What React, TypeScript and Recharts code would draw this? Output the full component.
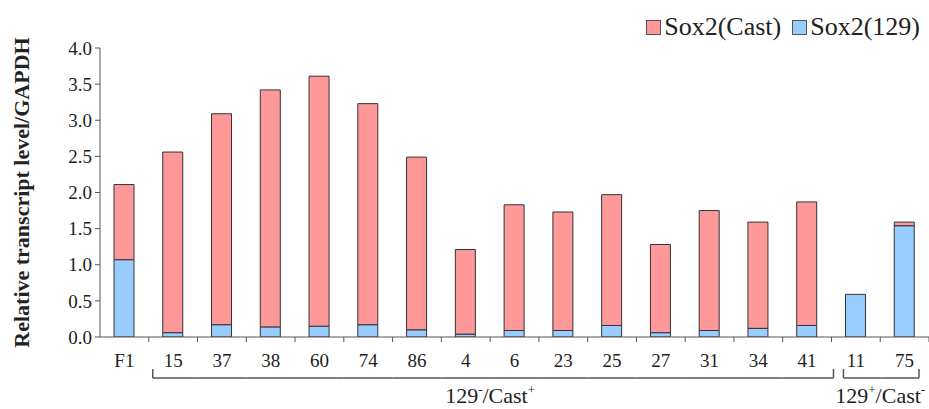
import { BarChart, Bar, XAxis, YAxis } from "recharts";

const CHART_W = 929;
const CHART_H = 409;
const Y_AXIS_W = 100;
const X_AXIS_H = 72;
const TOP = 48;

const FONT = "'Times New Roman', 'Liberation Serif', 'DejaVu Serif', serif";
const INK = "#222";
const AXIS = "#555";

const categories = ["F1", "15", "37", "38", "60", "74", "86", "4", "6", "23", "25", "27", "31", "34", "41", "11", "75"];
const sox2_129 = [1.07, 0.06, 0.17, 0.14, 0.15, 0.17, 0.1, 0.04, 0.09, 0.09, 0.16, 0.06, 0.09, 0.12, 0.16, 0.59, 1.54];
const sox2Cast = [1.04, 2.5, 2.92, 3.28, 3.46, 3.06, 2.39, 1.17, 1.74, 1.64, 1.81, 1.22, 1.66, 1.47, 1.71, 0, 0.05];
const yTicks = [0, 0.5, 1, 1.5, 2, 2.5, 3, 3.5, 4];

const groups = [
  { main: "129", sup1: "-", rest: "/Cast", sup2: "+", from: 1, to: 14, padL: 4, padR: -2 },
  { main: "129", sup1: "+", rest: "/Cast", sup2: "-", from: 15, to: 16, padL: 12, padR: 10 },
];

const series = [
  { key: "cast", name: "Sox2(Cast)", color: "#FF9999" },
  { key: "s129", name: "Sox2(129)", color: "#99CCFF" },
];

const data = categories.map((name, i) => ({
  name,
  s129: sox2_129[i],
  cast: sox2Cast[i],
}));

const bandW = (CHART_W - Y_AXIS_W) / categories.length;

function XTick(props: any) {
  const { x, y, payload, index } = props;
  const items: any[] = [];
  items.push(
    <text key="t" x={x} y={y + 30} textAnchor="middle" fontSize={19} fontFamily={FONT} fill={INK}>
      {payload.value}
    </text>
  );
  items.push(<line key="m" x1={x + bandW / 2} x2={x + bandW / 2} y1={y} y2={y + 5} stroke={AXIS} />);
  groups.forEach((g, gi) => {
    if (index < g.from || index > g.to) return;
    const left = index === g.from ? x - bandW / 2 + g.padL : x - bandW / 2;
    const right = index === g.to ? x + bandW / 2 - g.padR : x + bandW / 2;
    items.push(<line key={"h" + gi} x1={left} x2={right} y1={y + 41} y2={y + 41} stroke={AXIS} strokeWidth={1.5} />);
    if (index === g.from)
      items.push(<line key={"l" + gi} x1={left} x2={left} y1={y + 32} y2={y + 41} stroke={AXIS} strokeWidth={1.5} />);
    if (index === g.to)
      items.push(<line key={"r" + gi} x1={right} x2={right} y1={y + 32} y2={y + 41} stroke={AXIS} strokeWidth={1.5} />);
    const mid = (g.from + g.to) / 2;
    if (index === Math.floor(mid)) {
      const cx = x + (mid - index) * bandW;
      items.push(
        <text key={"g" + gi} x={cx} y={y + 66} textAnchor="middle" fontSize={22} fontFamily={FONT} fill={INK}>
          <tspan>{g.main}</tspan>
          <tspan dy={-9} fontSize={13}>{g.sup1}</tspan>
          <tspan dy={9}>{g.rest}</tspan>
          <tspan dy={-9} fontSize={13}>{g.sup2}</tspan>
        </text>
      );
    }
  });
  return <g>{items}</g>;
}

function YLabel(props: any) {
  const vb = props.viewBox || {};
  const cx = 24;
  const cy = vb.y + vb.height / 2;
  return (
    <text
      x={cx}
      y={cy}
      transform={`rotate(-90, ${cx}, ${cy})`}
      textAnchor="middle"
      dominantBaseline="middle"
      fontSize={22}
      fontWeight="bold"
      fontFamily={FONT}
      fill={INK}
    >
      Relative transcript level/GAPDH
    </text>
  );
}

export default function App() {
  return (
    <div style={{ position: "absolute", left: 0, top: 0, width: CHART_W, height: CHART_H, background: "#fff" }}>
      <div
        style={{
          position: "absolute",
          top: 12,
          right: 9,
          display: "flex",
          alignItems: "center",
          fontFamily: FONT,
          fontSize: 26,
          color: INK,
          lineHeight: "30px",
          zIndex: 2,
        }}
      >
        {series.map((s, i) => (
          <div key={s.key} style={{ display: "flex", alignItems: "center", marginLeft: i ? 11 : 0 }}>
            <span
              style={{
                display: "inline-block",
                width: 13,
                height: 13,
                background: s.color,
                border: "1px solid #555",
                marginRight: 3,
              }}
            />
            <span>{s.name}</span>
          </div>
        ))}
      </div>
      <BarChart width={CHART_W} height={CHART_H} data={data} margin={{ top: TOP, right: 0, bottom: 0, left: 0 }} barSize={20}>
        <XAxis
          dataKey="name"
          height={X_AXIS_H}
          interval={0}
          tickLine={false}
          tickSize={0}
          tickMargin={0}
          tick={<XTick />}
          stroke={AXIS}
        />
        <YAxis
          width={Y_AXIS_W}
          domain={[0, 4]}
          ticks={yTicks}
          tickFormatter={(v: number) => v.toFixed(1)}
          tickSize={5}
          tickMargin={3}
          stroke={AXIS}
          tick={{ fill: INK, fontSize: 19, fontFamily: FONT }}
          label={<YLabel />}
          allowDataOverflow
        />
        <Bar dataKey="s129" name="Sox2(129)" stackId="a" fill="#99CCFF" stroke="#333" strokeWidth={1} isAnimationActive={false} />
        <Bar dataKey="cast" name="Sox2(Cast)" stackId="a" fill="#FF9999" stroke="#333" strokeWidth={1} isAnimationActive={false} />
      </BarChart>
    </div>
  );
}
